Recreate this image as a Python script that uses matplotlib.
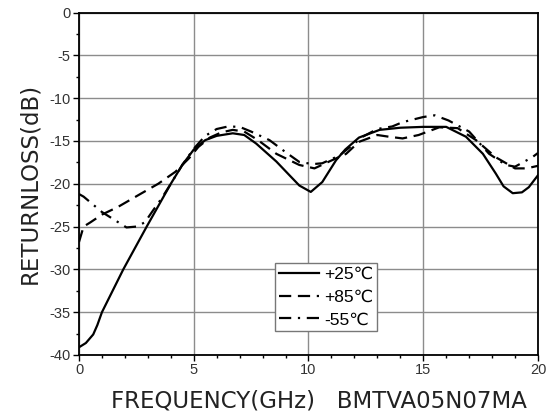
import numpy as np
import matplotlib
matplotlib.use('Agg')
from matplotlib import pyplot as plt
from matplotlib.ticker import MultipleLocator

plt.rcParams['font.family'] = ['Liberation Sans', 'DejaVu Sans']
plt.rcParams['axes.unicode_minus'] = False

## Data ##
f_25 = [0, 0.3, 0.62, 0.8, 1.0, 1.93, 2.95, 4.0, 4.5, 5.0, 5.5, 6.0, 6.7, 7.2, 7.72, 8.6,
        9.17, 9.6, 10.1, 10.6, 11.2, 11.6, 12.2, 13.1, 14.0, 15.0, 16.0, 16.86, 17.6,
        18.16, 18.5, 18.9, 19.3, 19.6, 20]
rl_25 = [-39.1, -38.6, -37.6, -36.5, -35.0, -30.0, -25.0, -20.0, -17.8, -16.0, -14.9, -14.4,
         -14.1, -14.3, -15.3, -17.4, -19.0, -20.2, -20.95, -19.8, -17.25, -16.0, -14.6, -13.7,
         -13.45, -13.35, -13.35, -14.5, -16.5, -18.8, -20.3, -21.1, -21.0, -20.4, -19.0]

f_85 = [0, 0.2, 0.5, 1.0, 1.7, 2.7, 3.45, 4.2, 4.8, 5.2, 5.7, 6.2, 6.7, 7.2, 7.8, 8.6, 9.6,
        10.26, 10.9, 11.64, 12.2, 13.0, 13.5, 14.1, 14.8, 15.7, 16.5, 17.3, 18.16, 19.0, 19.5, 20]
rl_85 = [-26.8, -25.0, -24.5, -23.6, -22.7, -21.15, -20.0, -18.6, -17.0, -15.7, -14.6, -14.0,
         -13.7, -13.9, -14.9, -16.5, -17.8, -18.2, -17.4, -16.5, -15.1, -14.3, -14.5, -14.7,
         -14.3, -13.4, -13.5, -14.9, -16.9, -18.2, -18.2, -17.9]

f_55 = [0, 0.2, 1.0, 2.07, 2.5, 2.87, 3.23, 3.6, 4.0, 4.5, 5.0, 5.5, 6.0, 6.5, 7.0, 7.5, 8.3,
        9.0, 9.6, 10.2, 10.6, 11.35, 12.36, 13.0, 13.65, 14.1, 15.0, 15.5, 16.1, 17.0, 17.87,
        18.6, 19.0, 19.75, 20]
rl_55 = [-21.2, -21.5, -23.3, -25.1, -25.0, -24.5, -23.1, -21.7, -20.0, -17.8, -15.9, -14.4,
         -13.6, -13.3, -13.35, -13.9, -14.9, -16.3, -17.45, -17.7, -17.6, -16.7, -14.5, -13.6,
         -13.3, -12.8, -12.2, -12.0, -12.6, -13.9, -16.5, -17.8, -18.0, -16.9, -16.4]

labels = ['+25℃', '+85℃', '-55℃']

## Plot ##
fig = plt.figure(figsize=(5.54, 4.2), dpi=100)
ax = fig.add_axes([0.1426, 0.1548, 0.8285, 0.8152])

ax.plot(f_25, rl_25, color='black', lw=1.6, ls='-', label=labels[0])
ax.plot(f_85, rl_85, color='black', lw=1.6, ls=(0, (5.5, 3)), label=labels[1])
ax.plot(f_55, rl_55, color='black', lw=1.6, ls=(0, (5.5, 3, 1, 3)), label=labels[2])

ax.set_xlim(0, 20)
ax.set_ylim(-40, 0)
ax.xaxis.set_major_locator(MultipleLocator(5))
ax.xaxis.set_minor_locator(MultipleLocator(1))
ax.yaxis.set_major_locator(MultipleLocator(5))
ax.yaxis.set_minor_locator(MultipleLocator(2.5))
ax.grid(True, which='major', color='#8c8c8c', lw=1.0)
ax.set_axisbelow(True)
for s in ax.spines.values():
    s.set_linewidth(1.3)
ax.tick_params(which='major', direction='out', length=4, width=1, labelsize=10.5,
               labelcolor='#333333', pad=2)
ax.tick_params(which='minor', direction='out', length=2.5, width=1)

ax.set_ylabel('RETURNLOSS(dB)', fontsize=16.5, color='#222222', labelpad=6,
              family='DejaVu Sans')
fig.text(0.575, 0.045, 'FREQUENCY(GHz)   BMTVA05N07MA', fontsize=16.5, color='#222222',
         ha='center', va='center', family='DejaVu Sans')

leg = ax.legend(loc='lower left', bbox_to_anchor=(0.428, 0.07), fontsize=12.5,
                fancybox=False, framealpha=1, edgecolor='#777777', handlelength=2.3,
                handletextpad=0.3, borderpad=0.2, labelspacing=0.45, borderaxespad=0)
leg.get_frame().set_linewidth(1.0)

plt.savefig('out.png', dpi=100)
